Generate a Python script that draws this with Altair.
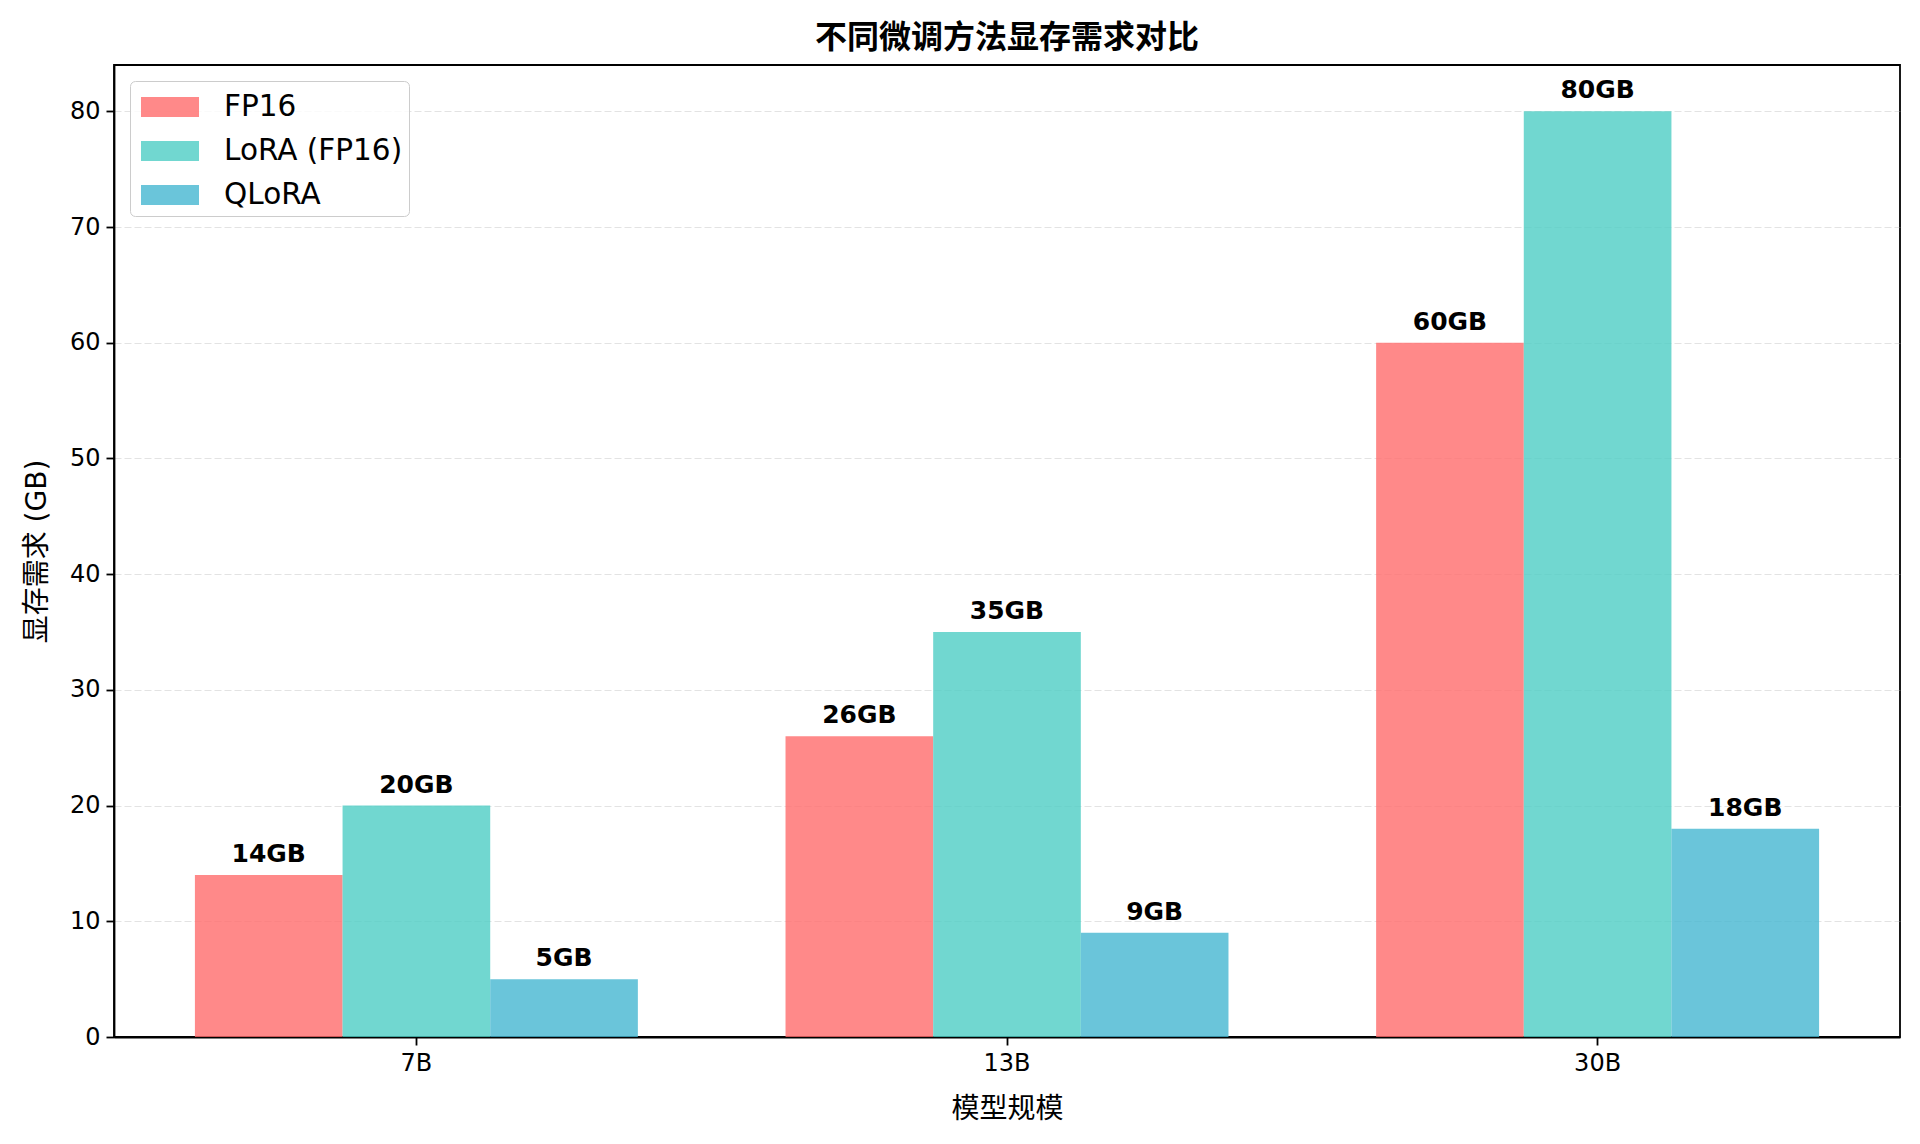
import altair as alt
import pandas as pd

models = ["7B", "13B", "30B"]
methods = ["FP16", "LoRA (FP16)", "QLoRA"]
fp16 = [14, 26, 60]
lora = [20, 35, 80]
qlora = [5, 9, 18]
colors = ["#FF6B6B", "#4ECDC4", "#45B7D1"]

rows = []
for i, m in enumerate(models):
    for meth, vals in zip(methods, [fp16, lora, qlora]):
        rows.append({"model": m, "method": meth, "value": vals[i], "label": f"{vals[i]}GB"})
df = pd.DataFrame(rows)

FONT = "DejaVu Sans, Noto Sans CJK SC"

x_enc = alt.X("model:N", sort=models, title="模型规模",
              scale=alt.Scale(paddingInner=0.25, paddingOuter=0.137),
              axis=alt.Axis(labelAngle=0, titleFontSize=28, titleFontWeight="normal",
                            titlePadding=20, labelFontSize=24, labelPadding=6,
                            tickSize=8, grid=False))
xoff = alt.XOffset("method:N", sort=methods, scale=alt.Scale(paddingInner=0, paddingOuter=0))

base = alt.Chart(df)

bars = base.mark_bar(opacity=0.8).encode(
    x=x_enc,
    xOffset=xoff,
    y=alt.Y("value:Q", title="显存需求 (GB)",
            scale=alt.Scale(domain=[0, 84], nice=False),
            axis=alt.Axis(values=list(range(0, 81, 10)), titleFontSize=28,
                          titleFontWeight="normal", titlePadding=18,
                          labelFontSize=24, labelPadding=6, tickSize=8,
                          grid=True, gridDash=[7, 3], gridColor="#b0b0b0",
                          gridOpacity=0.35)),
    color=alt.Color("method:N", sort=methods,
                    scale=alt.Scale(domain=methods, range=colors),
                    legend=alt.Legend(title=None, orient="top-left", offset=16,
                                      labelFontSize=29.5, labelLimit=0,
                                      symbolType="M-1.45,-0.5H1.45V0.5H-1.45Z",
                                      symbolSize=1600, symbolOpacity=0.8,
                                      symbolStrokeWidth=0, symbolOffset=14,
                                      labelOffset=34,
                                      rowPadding=9, padding=6,
                                      strokeColor="#cccccc", fillColor="rgba(255,255,255,0.8)",
                                      cornerRadius=5)),
)

texts = base.mark_text(fontWeight="bold", fontSize=25, baseline="bottom", dy=-8,
                       color="black").encode(
    x=alt.X("model:N", sort=models),
    xOffset=xoff,
    y="value:Q",
    text="label:N",
)

chart = alt.layer(bars, texts).properties(
    width=1786, height=972,
    title=alt.TitleParams("不同微调方法显存需求对比", fontSize=32, fontWeight="bold",
                          offset=10, anchor="middle"),
    autosize=alt.AutoSizeParams(type="none"),
    padding={"left": 114, "top": 65, "right": 20, "bottom": 107},
).configure(font=FONT).configure_view(
    stroke="black", strokeWidth=1.8
).configure_axis(
    domainColor="black", domainWidth=1.8, tickColor="black", tickWidth=1.8,
    labelColor="black", titleColor="black", labelFont=FONT, titleFont=FONT
).configure_legend(labelFont=FONT).configure_title(font=FONT, color="black")

chart.save("out.html", embed_options={"renderer": "svg", "actions": False})
